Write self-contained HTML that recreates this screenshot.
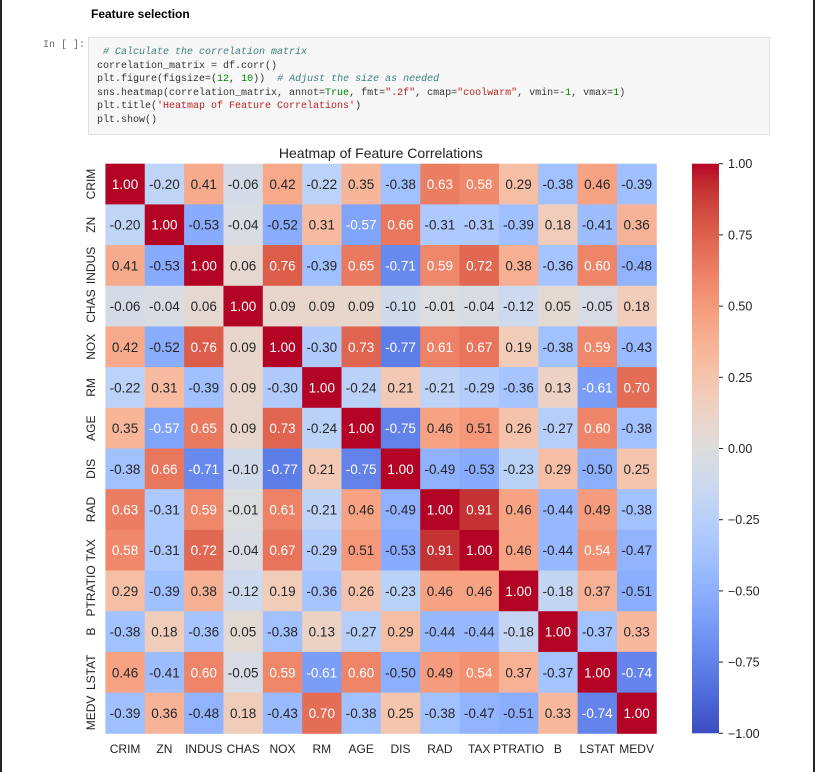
<!DOCTYPE html>
<html><head><meta charset="utf-8"><style>
html,body{margin:0;padding:0;background:#fff;width:815px;height:772px;overflow:hidden;font-family:"Liberation Sans",sans-serif;}
#wrap{position:relative;width:815px;height:772px;}
.bl{position:absolute;top:0;width:2px;height:772px;background:#222;}
#h{position:absolute;left:91px;top:7px;font-size:12px;font-weight:bold;color:#000;}
#inp{position:absolute;left:43px;top:40px;font-family:"Liberation Mono",monospace;font-size:10px;color:#666;}
#code{position:absolute;left:88px;top:37px;width:682px;height:98px;background:#f7f7f7;border:1px solid #e0e0e0;box-sizing:border-box;font-family:"Liberation Mono",monospace;font-size:10px;line-height:13.6px;padding:8px 0 0 8px;white-space:pre;color:#333;}
.c{color:#408080;font-style:italic}.s{color:#ba2121}.n{color:#080}.k{color:#008000}
svg{position:absolute;left:0;top:0;}
</style></head><body><div id="wrap">
<div class="bl" style="left:0"></div><div class="bl" style="left:813px"></div>
<div id="h">Feature selection</div>
<div id="inp">In [ ]:</div>
<div id="code"><span class="c"> # Calculate the correlation matrix</span>
correlation_matrix = df.corr()
plt.figure(figsize=(<span class="n">12</span>, <span class="n">10</span>))  <span class="c"># Adjust the size as needed</span>
sns.heatmap(correlation_matrix, annot=<span class="k">True</span>, fmt=<span class="s">".2f"</span>, cmap=<span class="s">"coolwarm"</span>, vmin=-<span class="n">1</span>, vmax=<span class="n">1</span>)
plt.title(<span class="s">'Heatmap of Feature Correlations'</span>)
plt.show()</div>
<svg id="chart" width="815" height="772"></svg>
</div>
<script>
const labels=["CRIM","ZN","INDUS","CHAS","NOX","RM","AGE","DIS","RAD","TAX","PTRATIO","B","LSTAT","MEDV"];
const values=[
[1.00,-0.20,0.41,-0.06,0.42,-0.22,0.35,-0.38,0.63,0.58,0.29,-0.38,0.46,-0.39],
[-0.20,1.00,-0.53,-0.04,-0.52,0.31,-0.57,0.66,-0.31,-0.31,-0.39,0.18,-0.41,0.36],
[0.41,-0.53,1.00,0.06,0.76,-0.39,0.65,-0.71,0.59,0.72,0.38,-0.36,0.60,-0.48],
[-0.06,-0.04,0.06,1.00,0.09,0.09,0.09,-0.10,-0.01,-0.04,-0.12,0.05,-0.05,0.18],
[0.42,-0.52,0.76,0.09,1.00,-0.30,0.73,-0.77,0.61,0.67,0.19,-0.38,0.59,-0.43],
[-0.22,0.31,-0.39,0.09,-0.30,1.00,-0.24,0.21,-0.21,-0.29,-0.36,0.13,-0.61,0.70],
[0.35,-0.57,0.65,0.09,0.73,-0.24,1.00,-0.75,0.46,0.51,0.26,-0.27,0.60,-0.38],
[-0.38,0.66,-0.71,-0.10,-0.77,0.21,-0.75,1.00,-0.49,-0.53,-0.23,0.29,-0.50,0.25],
[0.63,-0.31,0.59,-0.01,0.61,-0.21,0.46,-0.49,1.00,0.91,0.46,-0.44,0.49,-0.38],
[0.58,-0.31,0.72,-0.04,0.67,-0.29,0.51,-0.53,0.91,1.00,0.46,-0.44,0.54,-0.47],
[0.29,-0.39,0.38,-0.12,0.19,-0.36,0.26,-0.23,0.46,0.46,1.00,-0.18,0.37,-0.51],
[-0.38,0.18,-0.36,0.05,-0.38,0.13,-0.27,0.29,-0.44,-0.44,-0.18,1.00,-0.37,0.33],
[0.46,-0.41,0.60,-0.05,0.59,-0.61,0.60,-0.50,0.49,0.54,0.37,-0.37,1.00,-0.74],
[-0.39,0.36,-0.48,0.18,-0.43,0.70,-0.38,0.25,-0.38,-0.47,-0.51,0.33,-0.74,1.00]];
const cbarTicks=[1.00,0.75,0.50,0.25,0.00,-0.25,-0.50,-0.75,-1.00];
const titleText="Heatmap of Feature Correlations";

const CM=[[59,76,192],[68,90,204],[77,104,215],[87,117,225],[98,130,234],[108,142,241],[119,154,247],[130,165,251],[141,176,254],[152,185,255],[163,194,255],[174,201,253],[184,208,249],[194,213,244],[204,217,238],[213,219,230],[221,221,221],[229,216,209],[236,211,197],[241,204,185],[245,196,173],[247,187,160],[247,177,148],[247,166,135],[244,154,123],[241,141,111],[236,127,99],[229,112,88],[222,96,77],[213,80,66],[203,62,56],[192,40,47],[180,4,38]];
function cmap(v){let t=(Math.max(-1,Math.min(1,v))+1)/2*32;let i=Math.min(31,Math.floor(t)),f=t-i;return CM[i].map((c,k)=>Math.round(c+(CM[i+1][k]-c)*f));}
function lum(c){const l=c.map(x=>{x/=255;return x<=0.03928?x/12.92:Math.pow((x+0.055)/1.055,2.4)});return 0.2126*l[0]+0.7152*l[1]+0.0722*l[2];}
const X0=105.4,X1=656.3,Y0=163.7,Y1=733.3,n=labels.length;
const cw=(X1-X0)/n,ch=(Y1-Y0)/n;
const xPos=i=>X0+i*cw, yPos=j=>Y0+j*ch;
const CB={x0:692,x1:719,y0:163.7,y1:733.3};
const cbY=v=>CB.y0+(1-v)/2*(CB.y1-CB.y0);
const svg=document.getElementById('chart'),NS="http://www.w3.org/2000/svg";
function mk(tag,a,txt){const e=document.createElementNS(NS,tag);for(const k in a)e.setAttribute(k,a[k]);if(txt!=null)e.textContent=txt;svg.appendChild(e);return e;}
const F='"Liberation Sans",sans-serif';
let t=mk('text',{x:(X0+X1)/2,y:158,'text-anchor':'middle','font-family':F,'font-size':14,fill:'#222'},titleText);


values.forEach((row,j)=>row.forEach((v,i)=>{
 const c=cmap(v);
 let r=mk('rect',{x:xPos(i),y:yPos(j),width:cw+0.5,height:ch+0.5,fill:`rgb(${c})`});
 
 
 let a=mk('text',{x:xPos(i)+cw/2,y:yPos(j)+ch/2+5,'text-anchor':'middle','font-family':F,'font-size':13.5,fill:lum(c)>0.408?'#262626':'#ffffff'},v.toFixed(2));
 
 
}));
labels.forEach((l,i)=>{
 let a=mk('text',{x:xPos(i)+cw/2,y:753,'text-anchor':'middle','font-family':F,'font-size':12,fill:'#222'},l);
 
 
 const cy=yPos(i)+ch/2;
 let b=mk('text',{x:0,y:0,transform:`translate(95,${cy}) rotate(-90)`,'text-anchor':'middle','font-family':F,'font-size':12,fill:'#222'},l);
 
 
});
const defs=mk('defs',{});
const g=document.createElementNS(NS,'linearGradient');g.setAttribute('id','cg');g.setAttribute('x1','0');g.setAttribute('y1','1');g.setAttribute('x2','0');g.setAttribute('y2','0');defs.appendChild(g);
CM.forEach((c,i)=>{const s=document.createElementNS(NS,'stop');s.setAttribute('offset',i/32);s.setAttribute('stop-color',`rgb(${c})`);g.appendChild(s);});
let cb=mk('rect',{x:CB.x0,y:CB.y0,width:CB.x1-CB.x0,height:CB.y1-CB.y0,fill:'url(#cg)'});


cbarTicks.forEach(v=>{
 const y=cbY(v);
 mk('line',{x1:CB.x1,x2:CB.x1+4,y1:y,y2:y,stroke:'#222','stroke-width':1});
 let tl=mk('text',{x:CB.x1+9,y:y+4.5,'font-family':F,'font-size':12.5,fill:'#222'},v.toFixed(2).replace('-','\u2212'));
 
 
});
</script>
</body></html>
